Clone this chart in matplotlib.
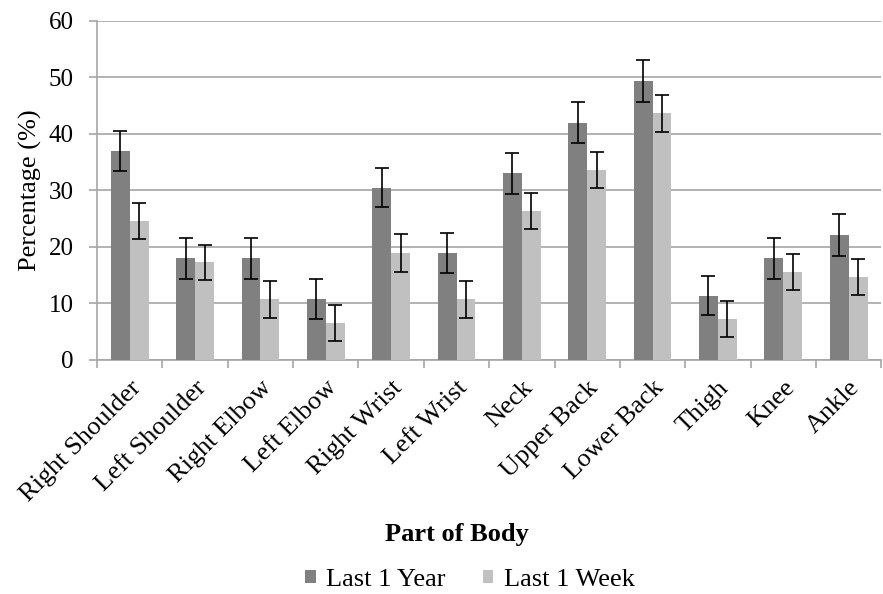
import matplotlib
matplotlib.use("Agg")
import matplotlib.pyplot as plt
import numpy as np

# values
parts = ["Right Shoulder", "Left Shoulder", "Right Elbow", "Left Elbow", "Right Wrist",
         "Left Wrist", "Neck", "Upper Back", "Lower Back", "Thigh", "Knee", "Ankle"]
last_year = [37.0, 18.0, 18.0, 10.8, 30.5, 18.9, 33.0, 42.0, 49.3, 11.4, 18.0, 22.1]
last_year_err = [3.5, 3.6, 3.6, 3.6, 3.5, 3.5, 3.6, 3.6, 3.7, 3.5, 3.6, 3.7]
last_week = [24.6, 17.3, 10.7, 6.5, 18.9, 10.7, 26.3, 33.6, 43.6, 7.3, 15.5, 14.7]
last_week_err = [3.2, 3.1, 3.2, 3.2, 3.3, 3.2, 3.2, 3.2, 3.3, 3.2, 3.2, 3.2]

plt.rcParams['font.family'] = ['Liberation Serif', 'DejaVu Serif']

fig = plt.figure(figsize=(8.83, 5.94), dpi=100)
ax = fig.add_axes([0.110, 0.394, 0.888, 0.571])

x = np.arange(len(parts))
w = 0.29
err_kw = dict(ecolor="black", elinewidth=1.2, capsize=5, capthick=1.2)
ax.bar(x - w / 2, last_year, w, yerr=last_year_err, color="#808080",
       label="Last 1 Year", error_kw=err_kw, zorder=3)
ax.bar(x + w / 2, last_week, w, yerr=last_week_err, color="#c0c0c0",
       label="Last 1 Week", error_kw=err_kw, zorder=3)

ax.set_xlim(-0.5, len(parts) - 0.5)
ax.set_ylim(0, 60)
ax.set_yticks(range(0, 61, 10))
ax.yaxis.grid(True, color="#a6a6a6", linewidth=1.2, zorder=0)
ax.set_axisbelow(True)

ax.set_xticks(x)
ax.set_xticklabels(parts, rotation=45, ha="right", rotation_mode="anchor", fontsize=19)
ax.set_xticks(np.arange(-0.5, len(parts), 1), minor=True)
ax.tick_params(axis="x", which="major", length=0, pad=12)
ax.tick_params(axis="x", which="minor", length=6, color="#a6a6a6", width=1.2)
ax.tick_params(axis="y", labelsize=18, length=6, color="#a6a6a6", width=1.2, pad=11)

for side in ["top", "right"]:
    ax.spines[side].set_visible(False)
for side in ["left", "bottom"]:
    ax.spines[side].set_color("#a6a6a6")
    ax.spines[side].set_linewidth(1.2)

ax.set_ylabel("Percentage (%)", fontsize=19)
ax.yaxis.set_label_coords(-0.070, 0.5)
fig.text(0.518, 0.100, "Part of Body", ha="center", va="center", fontsize=19, fontweight="bold")

fig.legend(loc="center", bbox_to_anchor=(0.532, 0.024), ncol=2, frameon=False, fontsize=19,
           handlelength=0.4, handleheight=0.4, handletextpad=0.4, columnspacing=1.4)

fig.savefig("out.png", dpi=100)
